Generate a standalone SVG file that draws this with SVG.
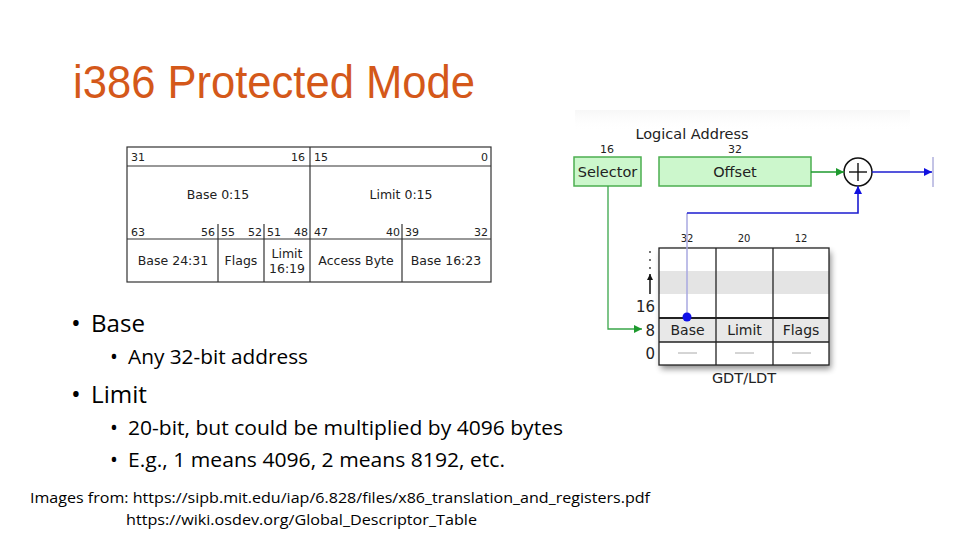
<svg xmlns="http://www.w3.org/2000/svg" width="960" height="540" viewBox="0 0 960 540">
<defs>
<style>
.tb{fill:none;stroke:#333;stroke-width:1.2}
.t{font-family:"DejaVu Sans",sans-serif;fill:#222}
.n{font-size:11px}
.lbl{font-size:12.5px}
.b{font-family:"Open Sans","Liberation Sans",sans-serif;fill:#000}
.g{fill:#ccf7cc;stroke:#4caf50;stroke-width:1.5}
.cell{fill:#fff;stroke:#222;stroke-width:1.3}
</style>
<marker id="ag" viewBox="0 0 10 10" refX="10" refY="5" markerWidth="10" markerHeight="8" orient="auto" markerUnits="userSpaceOnUse"><path d="M0,0 L10,5 L0,10 z" fill="#1e9a2e"/></marker>
<marker id="ab" viewBox="0 0 10 10" refX="10" refY="5" markerWidth="10" markerHeight="8" orient="auto" markerUnits="userSpaceOnUse"><path d="M0,0 L10,5 L0,10 z" fill="#1010e0"/></marker>
<marker id="ak" viewBox="0 0 10 10" refX="10" refY="5" markerWidth="9" markerHeight="6" orient="auto" markerUnits="userSpaceOnUse"><path d="M0,0 L10,5 L0,10 z" fill="#111"/></marker>
<linearGradient id="bg" x1="0" y1="0" x2="0" y2="1"><stop offset="0" stop-color="#f7f7f7"/><stop offset="1" stop-color="#fff" stop-opacity="0"/></linearGradient>
<filter id="sh" x="-10%" y="-10%" width="130%" height="130%"><feGaussianBlur in="SourceAlpha" stdDeviation="3"/><feOffset dx="2" dy="4"/><feComponentTransfer><feFuncA type="linear" slope="0.45"/></feComponentTransfer><feMerge><feMergeNode/><feMergeNode in="SourceGraphic"/></feMerge></filter>
</defs>
<rect width="960" height="540" fill="#fff"/>

<g id="title"><text x="73" y="98" font-family="Liberation Sans, Arial, sans-serif" font-size="46" fill="#d4581a" textLength="402" lengthAdjust="spacingAndGlyphs">i386 Protected Mode</text></g>

<g id="descriptor-table">
<rect x="127" y="147" width="364" height="135" class="tb"/>
<line x1="127" y1="166" x2="491" y2="166" class="tb"/>
<line x1="127" y1="239" x2="491" y2="239" class="tb"/>
<line x1="310" y1="147" x2="310" y2="282" class="tb"/>
<line x1="218" y1="224" x2="218" y2="282" class="tb"/>
<line x1="264" y1="224" x2="264" y2="282" class="tb"/>
<line x1="402" y1="224" x2="402" y2="282" class="tb"/>
<text class="t n" x="131" y="161">31</text>
<text class="t n" x="305" y="161" text-anchor="end">16</text>
<text class="t n" x="314" y="161">15</text>
<text class="t n" x="488" y="161" text-anchor="end">0</text>
<text class="t lbl" x="218" y="199" text-anchor="middle">Base 0:15</text>
<text class="t lbl" x="401" y="199" text-anchor="middle">Limit 0:15</text>
<text class="t n" x="131" y="236">63</text>
<text class="t n" x="215" y="236" text-anchor="end">56</text>
<text class="t n" x="221" y="236">55</text>
<text class="t n" x="262" y="236" text-anchor="end">52</text>
<text class="t n" x="267" y="236">51</text>
<text class="t n" x="308" y="236" text-anchor="end">48</text>
<text class="t n" x="314" y="236">47</text>
<text class="t n" x="400" y="236" text-anchor="end">40</text>
<text class="t n" x="405" y="236">39</text>
<text class="t n" x="488" y="236" text-anchor="end">32</text>
<text class="t lbl" x="173" y="265" text-anchor="middle">Base 24:31</text>
<text class="t lbl" x="241" y="265" text-anchor="middle">Flags</text>
<text class="t lbl" x="287" y="258" text-anchor="middle">Limit</text>
<text class="t lbl" x="287" y="273" text-anchor="middle">16:19</text>
<text class="t lbl" x="356" y="265" text-anchor="middle">Access Byte</text>
<text class="t lbl" x="446" y="265" text-anchor="middle">Base 16:23</text>
</g>

<g id="bullets">
<text class="b" x="71" y="332" font-size="26">•</text>
<text class="b" x="91" y="332" font-size="23" textLength="54" lengthAdjust="spacingAndGlyphs">Base</text>
<text class="b" x="110" y="364" font-size="21">•</text>
<text class="b" x="128" y="364" font-size="19.5" textLength="180" lengthAdjust="spacingAndGlyphs">Any 32-bit address</text>
<text class="b" x="71" y="403" font-size="26">•</text>
<text class="b" x="91" y="403" font-size="23" textLength="56" lengthAdjust="spacingAndGlyphs">Limit</text>
<text class="b" x="110" y="435" font-size="21">•</text>
<text class="b" x="128" y="435" font-size="19.5" textLength="435" lengthAdjust="spacingAndGlyphs">20-bit, but could be multiplied by 4096 bytes</text>
<text class="b" x="110" y="467" font-size="21">•</text>
<text class="b" x="128" y="467" font-size="19.5" textLength="377" lengthAdjust="spacingAndGlyphs">E.g., 1 means 4096, 2 means 8192, etc.</text>
</g>

<g id="footer">
<text class="b" x="30" y="503" font-size="15" textLength="620" lengthAdjust="spacingAndGlyphs">Images from: https://sipb.mit.edu/iap/6.828/files/x86_translation_and_registers.pdf</text>
<text class="b" x="126" y="525" font-size="15" textLength="351" lengthAdjust="spacingAndGlyphs">https://wiki.osdev.org/Global_Descriptor_Table</text>
</g>

<rect x="575" y="110" width="335" height="22" fill="url(#bg)"/>

<g id="logical-address-label">
<text class="t" x="692" y="139" font-size="14.5" text-anchor="middle">Logical Address</text>
<text class="t" x="607" y="153" font-size="11" text-anchor="middle">16</text>
<text class="t" x="735" y="153" font-size="11" text-anchor="middle">32</text>
</g>
<g id="selector"><rect x="574" y="157" width="67" height="29" class="g"/><text class="t" x="607.5" y="177" font-size="14.5" text-anchor="middle">Selector</text></g>
<g id="offset"><rect x="659" y="157" width="152" height="29" class="g"/><text class="t" x="735" y="177" font-size="14.5" text-anchor="middle">Offset</text></g>
<g id="adder"><circle cx="858" cy="172" r="14" fill="#fff" stroke="#111" stroke-width="1.5"/><line x1="849" y1="172" x2="867" y2="172" stroke="#111" stroke-width="1.4"/><line x1="858" y1="163" x2="858" y2="181" stroke="#111" stroke-width="1.4"/></g>
<g id="output-bar"><line x1="933" y1="157" x2="933" y2="187" stroke="#8888cc" stroke-width="1"/></g>

<g id="gdt">
<g filter="url(#sh)">
<rect x="659" y="248" width="170" height="117" fill="#fff"/>
</g>
<rect x="659" y="271" width="170" height="23" fill="#e4e4e4"/>
<rect x="659" y="318" width="170" height="24" fill="#e8e8e8"/>
<rect x="659" y="248" width="170" height="117" fill="none" stroke="#222" stroke-width="1.3"/>
<line x1="716" y1="248" x2="716" y2="365" stroke="#222" stroke-width="1.3"/>
<line x1="773" y1="248" x2="773" y2="365" stroke="#222" stroke-width="1.3"/>
<line x1="659" y1="318" x2="829" y2="318" stroke="#222" stroke-width="2"/>
<line x1="659" y1="342" x2="829" y2="342" stroke="#222" stroke-width="1.3"/>
<text class="t" x="687.5" y="335" font-size="14" text-anchor="middle">Base</text>
<text class="t" x="744.5" y="335" font-size="14" text-anchor="middle">Limit</text>
<text class="t" x="801" y="335" font-size="14" text-anchor="middle">Flags</text>
<line x1="678" y1="353" x2="697" y2="353" stroke="#aaa" stroke-width="1"/>
<line x1="735" y1="353" x2="754" y2="353" stroke="#aaa" stroke-width="1"/>
<line x1="792" y1="353" x2="811" y2="353" stroke="#aaa" stroke-width="1"/>
<text class="t" x="687" y="242" font-size="10" text-anchor="middle">32</text>
<text class="t" x="744" y="242" font-size="10" text-anchor="middle">20</text>
<text class="t" x="801" y="242" font-size="10" text-anchor="middle">12</text>
<text class="t" x="655" y="312" font-size="15" text-anchor="end">16</text>
<text class="t" x="655" y="336" font-size="15" text-anchor="end">8</text>
<text class="t" x="655" y="359" font-size="15" text-anchor="end">0</text>
<circle cx="650" cy="252" r="0.9" fill="#333"/>
<circle cx="650" cy="260" r="0.9" fill="#333"/>
<circle cx="650" cy="268" r="0.9" fill="#333"/>
<line x1="650" y1="294" x2="650" y2="274" stroke="#111" stroke-width="1.5" marker-end="url(#ak)"/>
<text class="t" x="744" y="383" font-size="14.5" text-anchor="middle">GDT/LDT</text>
</g>

<g id="connectors">
<polyline points="608,186 608,329 642,329" fill="none" stroke="#3aa64a" stroke-width="1.3" marker-end="url(#ag)"/>
<line x1="811" y1="172" x2="844" y2="172" stroke="#1e9a2e" stroke-width="1.3" marker-end="url(#ag)"/>
<line x1="687" y1="317" x2="687" y2="213" stroke="#a8a8e0" stroke-width="1.5"/>
<polyline points="687,213 858,213 858,186" fill="none" stroke="#1c1cd0" stroke-width="1.6" marker-end="url(#ab)"/>
<line x1="872" y1="172" x2="932" y2="172" stroke="#1c1cd0" stroke-width="1.4" marker-end="url(#ab)"/>
<circle cx="687" cy="317" r="4.5" fill="#1010e8"/>
</g>
</svg>
